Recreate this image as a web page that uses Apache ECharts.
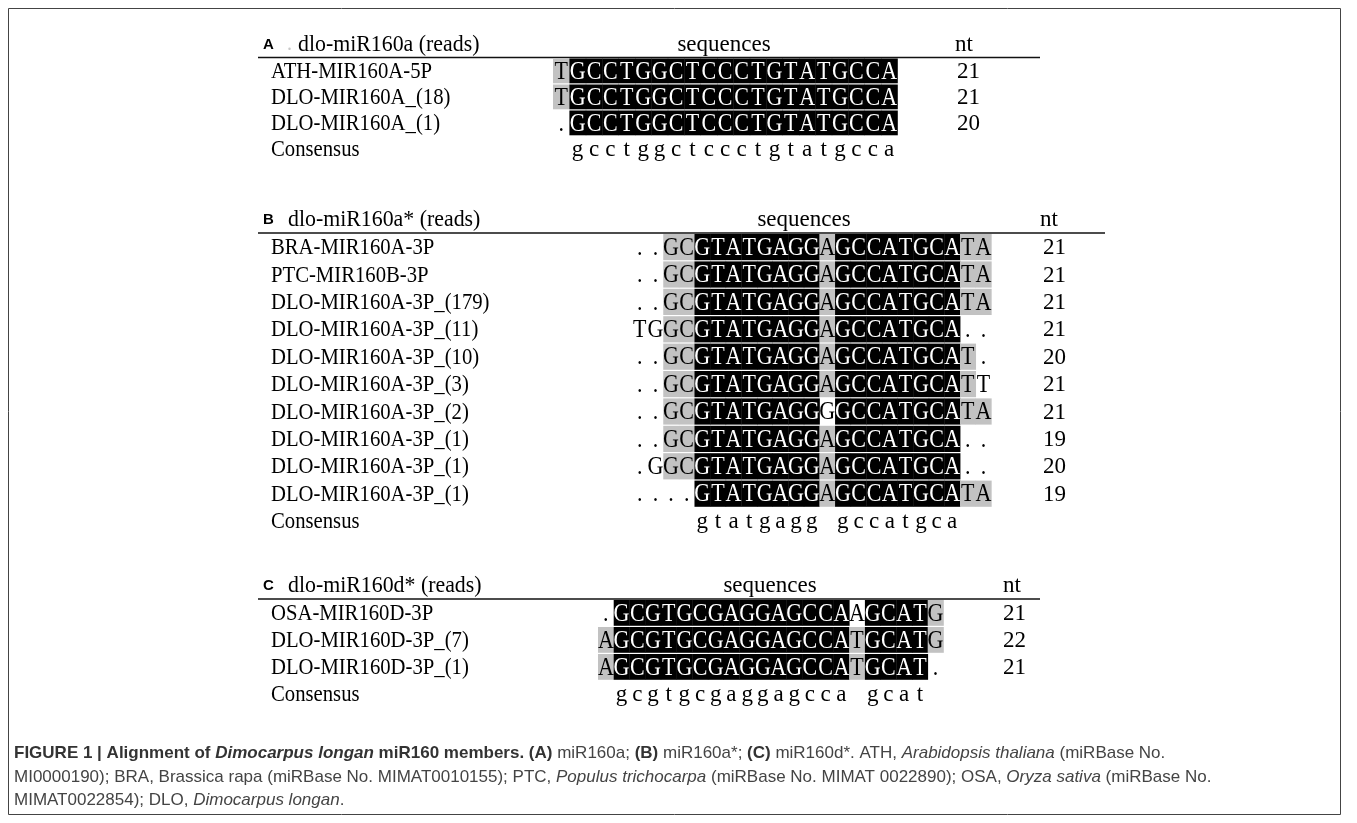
<!DOCTYPE html>
<html>
<head>
<meta charset="utf-8">
<script src="https://cdn.jsdelivr.net/npm/echarts@6/dist/echarts.min.js"></script>
<style>
  html, body { margin: 0; padding: 0; background: #fff; }
  #chart { width: 1357px; height: 823px; }
</style>
</head>
<body>
<div id="chart"></div>
<script>
// ---- Panel A: dlo-miR160a ----
// conservation codes per position: k = identical in all, g = partially conserved, - = not shaded
const namesA = ['ATH-MIR160A-5P', 'DLO-MIR160A_(18)', 'DLO-MIR160A_(1)'];
const seqsA = [
  'TGCCTGGCTCCCTGTATGCCA',
  'TGCCTGGCTCCCTGTATGCCA',
  '.GCCTGGCTCCCTGTATGCCA'
];
const conservA = [
  'gkkkkkkkkkkkkkkkkkkkk',
  'gkkkkkkkkkkkkkkkkkkkk',
  '-kkkkkkkkkkkkkkkkkkkk'
];
const ntA = [21, 21, 20];
const consensusA = ' gcctggctccctgtatgcca';

// ---- Panel B: dlo-miR160a* ----
const namesB = [
  'BRA-MIR160A-3P', 'PTC-MIR160B-3P', 'DLO-MIR160A-3P_(179)', 'DLO-MIR160A-3P_(11)',
  'DLO-MIR160A-3P_(10)', 'DLO-MIR160A-3P_(3)', 'DLO-MIR160A-3P_(2)', 'DLO-MIR160A-3P_(1)',
  'DLO-MIR160A-3P_(1)', 'DLO-MIR160A-3P_(1)'
];
const seqsB = [
  '..GCGTATGAGGAGCCATGCATA',
  '..GCGTATGAGGAGCCATGCATA',
  '..GCGTATGAGGAGCCATGCATA',
  'TGGCGTATGAGGAGCCATGCA..',
  '..GCGTATGAGGAGCCATGCAT.',
  '..GCGTATGAGGAGCCATGCATT',
  '..GCGTATGAGGGGCCATGCATA',
  '..GCGTATGAGGAGCCATGCA..',
  '.GGCGTATGAGGAGCCATGCA..',
  '....GTATGAGGAGCCATGCATA'
];
const conservB = [
  '--ggkkkkkkkkgkkkkkkkkgg',
  '--ggkkkkkkkkgkkkkkkkkgg',
  '--ggkkkkkkkkgkkkkkkkkgg',
  '--ggkkkkkkkkgkkkkkkkk--',
  '--ggkkkkkkkkgkkkkkkkkg-',
  '--ggkkkkkkkkgkkkkkkkkg-',
  '--ggkkkkkkkk-kkkkkkkkgg',
  '--ggkkkkkkkkgkkkkkkkk--',
  '--ggkkkkkkkkgkkkkkkkk--',
  '----kkkkkkkkgkkkkkkkkgg'
];
const ntB = [21, 21, 21, 21, 20, 21, 21, 19, 20, 19];
const consensusB = '    gtatgagg gccatgca  ';

// ---- Panel C: dlo-miR160d* ----
const namesC = ['OSA-MIR160D-3P', 'DLO-MIR160D-3P_(7)', 'DLO-MIR160D-3P_(1)'];
const seqsC = [
  '.GCGTGCGAGGAGCCAAGCATG',
  'AGCGTGCGAGGAGCCATGCATG',
  'AGCGTGCGAGGAGCCATGCAT.'
];
const conservC = [
  '-kkkkkkkkkkkkkkk-kkkkg',
  'gkkkkkkkkkkkkkkkgkkkkg',
  'gkkkkkkkkkkkkkkkgkkkk-'
];
const ntC = [21, 22, 21];
const consensusC = ' gcgtgcgaggagcca gcat ';

// ---- drawing ----
const SERIF = '"Liberation Serif", "Times New Roman", serif';
const SANS = '"Liberation Sans", Arial, sans-serif';

const panels = [
  { tag: 'A', title: 'dlo-miR160a (reads)', names: namesA, seqs: seqsA, conserv: conservA, nt: ntA, consensus: consensusA,
    left: 553, colW: 16.4, top: 58, pitch: 26, ntX: 957, ruleY: 57.5, ruleX2: 1040,
    headY: 45, titleX: 298, seqHeadX: 724, ntHeadX: 955, dot: true },
  { tag: 'B', title: 'dlo-miR160a* (reads)', names: namesB, seqs: seqsB, conserv: conservB, nt: ntB, consensus: consensusB,
    left: 632, colW: 15.62, top: 233.5, pitch: 27.4, ntX: 1043, ruleY: 233, ruleX2: 1105,
    headY: 220, titleX: 288, seqHeadX: 804, ntHeadX: 1040 },
  { tag: 'C', title: 'dlo-miR160d* (reads)', names: namesC, seqs: seqsC, conserv: conservC, nt: ntC, consensus: consensusC,
    left: 598, colW: 15.7, top: 599.5, pitch: 27, ntX: 1003, ruleY: 599, ruleX2: 1040,
    headY: 586, titleX: 288, seqHeadX: 770, ntHeadX: 1003 }
];
const NAME_X = 271;
const RULE_X1 = 258;

const grid = [], xAxis = [], yAxis = [], series = [], graphic = [];

panels.forEach((p, i) => {
  const ncol = p.seqs[0].length;
  const rows = p.names.concat(['Consensus']);
  const ntLabels = p.nt.map(String).concat(['']);
  const width = ncol * p.colW;
  const height = rows.length * p.pitch;

  grid.push({ left: p.left, top: p.top, width: width, height: height, containLabel: false });
  xAxis.push({ type: 'value', gridIndex: i, min: -0.5, max: ncol - 0.5, show: false });
  yAxis.push({ type: 'category', gridIndex: i, inverse: true, data: rows, show: false });

  // one cell per aligned position, plus the consensus row
  const cells = [];
  p.seqs.forEach((s, r) => {
    for (let c = 0; c < s.length; c++) cells.push({ col: c, row: r, ch: s[c], level: p.conserv[r][c] });
  });
  for (let c = 0; c < p.consensus.length; c++) {
    if (p.consensus[c] !== ' ') cells.push({ col: c, row: p.names.length, ch: p.consensus[c], level: 'c' });
  }
  const shaded = cells.filter(d => d.level === 'k' || d.level === 'g');

  // shaded background boxes
  series.push({
    type: 'custom', xAxisIndex: i, yAxisIndex: i, silent: true, z: 2,
    data: shaded.map(d => [d.col, d.row]),
    renderItem: (params, api) => {
      const d = shaded[params.dataIndex];
      const pt = api.coord([api.value(0), api.value(1)]);
      const sz = api.size([1, 1]);
      return {
        type: 'rect',
        shape: { x: pt[0] - sz[0] / 2, y: pt[1] - sz[1] / 2 + 0.5, width: sz[0] + 0.4, height: sz[1] - 1.2 },
        style: { fill: d.level === 'k' ? '#000' : '#c2c2c2' }
      };
    }
  });
  // residues and consensus letters
  series.push({
    type: 'custom', xAxisIndex: i, yAxisIndex: i, silent: true, z: 3,
    data: cells.map(d => [d.col, d.row]),
    renderItem: (params, api) => {
      const d = cells[params.dataIndex];
      const pt = api.coord([api.value(0), api.value(1)]);
      const isCons = d.level === 'c';
      return {
        type: 'text', x: pt[0], y: pt[1] + 1, scaleX: isCons ? 1 : 0.88,
        style: { text: d.ch, fill: d.level === 'k' ? '#fff' : '#000',
          fontFamily: SERIF, fontSize: isCons ? 23 : 25, align: 'center', verticalAlign: 'middle' }
      };
    }
  });
  // sequence names on the left, lengths (nt) on the right
  series.push({
    type: 'custom', xAxisIndex: i, yAxisIndex: i, silent: true, z: 3,
    data: rows.map((_, r) => [0, r]),
    renderItem: (params, api) => {
      const r = params.dataIndex;
      const pt = api.coord([api.value(0), api.value(1)]);
      return {
        type: 'group',
        children: [
          { type: 'text', x: NAME_X, y: pt[1] + 1, scaleX: 0.9,
            style: { text: rows[r], fill: '#000', fontFamily: SERIF, fontSize: 23, align: 'left', verticalAlign: 'middle' } },
          { type: 'text', x: p.ntX, y: pt[1] + 1,
            style: { text: ntLabels[r], fill: '#000', fontFamily: SERIF, fontSize: 23, align: 'left', verticalAlign: 'middle' } }
        ]
      };
    }
  });

  // panel header and rule
  graphic.push({ type: 'text', x: 263, y: p.headY, style: { text: p.tag, fontFamily: SANS, fontWeight: 'bold', fontSize: 15, fill: '#000', verticalAlign: 'middle' } });
  if (p.dot) graphic.push({ type: 'text', x: 287, y: p.headY, style: { text: '.', fontFamily: SERIF, fontSize: 20, fill: '#c8c8c8', verticalAlign: 'middle' } });
  graphic.push({ type: 'text', x: p.titleX, y: p.headY, scaleX: 0.95, style: { text: p.title, fontFamily: SERIF, fontSize: 23, fill: '#000', verticalAlign: 'middle' } });
  graphic.push({ type: 'text', x: p.seqHeadX, y: p.headY, style: { text: 'sequences', fontFamily: SERIF, fontSize: 23, fill: '#000', align: 'center', verticalAlign: 'middle' } });
  graphic.push({ type: 'text', x: p.ntHeadX, y: p.headY, style: { text: 'nt', fontFamily: SERIF, fontSize: 23, fill: '#000', verticalAlign: 'middle' } });
  graphic.push({ type: 'line', shape: { x1: RULE_X1, y1: p.ruleY, x2: p.ruleX2, y2: p.ruleY }, style: { stroke: '#111', lineWidth: 1.3 } });
});

// frame around figure and caption
graphic.push({ type: 'rect', shape: { x: 8.5, y: 8.5, width: 1332, height: 806 }, style: { fill: 'none', stroke: '#444', lineWidth: 1 } });

// caption
const CAP = 17;
const capRich = {
  b: { fontFamily: SANS, fontSize: CAP, fontWeight: 'bold', fill: '#333' },
  bi: { fontFamily: SANS, fontSize: CAP, fontWeight: 'bold', fontStyle: 'italic', fill: '#333' },
  r: { fontFamily: SANS, fontSize: CAP, fill: '#444' },
  i: { fontFamily: SANS, fontSize: CAP, fontStyle: 'italic', fill: '#444' }
};
const capLines = [
  '{b|FIGURE 1 | Alignment of }{bi|Dimocarpus longan}{b| miR160 members. (A)}{r| miR160a; }{b|(B)}{r| miR160a*; }{b|(C)}{r| miR160d*. ATH, }{i|Arabidopsis thaliana}{r| (miRBase No.}',
  '{r|MI0000190); BRA, Brassica rapa (miRBase No. MIMAT0010155); PTC, }{i|Populus trichocarpa}{r| (miRBase No. MIMAT 0022890); OSA, }{i|Oryza sativa}{r| (miRBase No.}',
  '{r|MIMAT0022854); DLO, }{i|Dimocarpus longan}{r|.}'
];
const capY = [753, 777, 800];
capLines.forEach((t, k) => {
  graphic.push({ type: 'text', x: 14, y: capY[k], style: { text: t, rich: capRich, verticalAlign: 'middle' } });
});

const chart = echarts.init(document.getElementById('chart'), null, { renderer: 'canvas' });
chart.setOption({
  animation: false,
  backgroundColor: '#fff',
  grid: grid,
  xAxis: xAxis,
  yAxis: yAxis,
  series: series,
  graphic: graphic
});
</script>
</body>
</html>
